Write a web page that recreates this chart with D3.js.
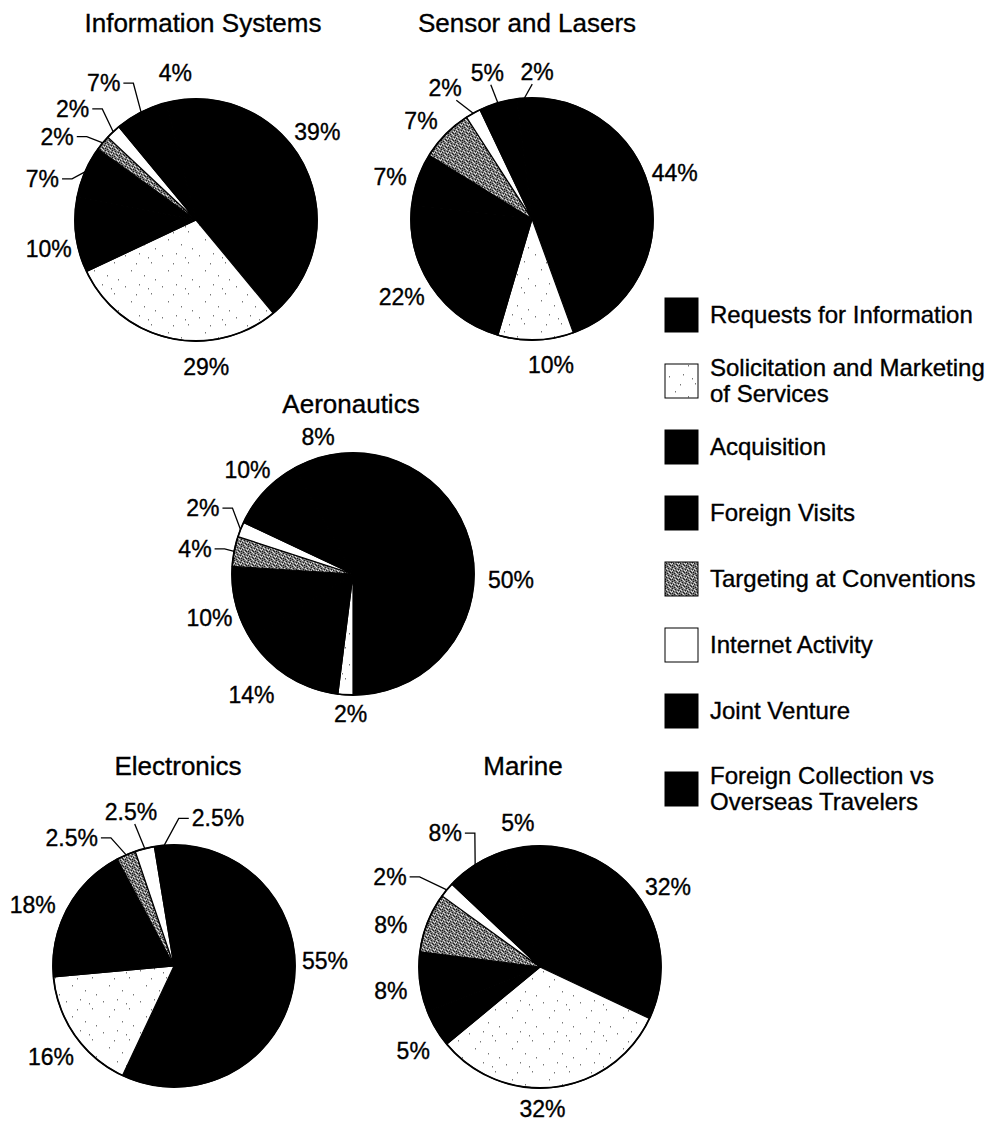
<!DOCTYPE html>
<html>
<head>
<meta charset="utf-8">
<script src="https://cdn.jsdelivr.net/npm/d3@7"></script>
<style>
  body { margin: 0; background: #fff; }
  svg { display: block; font-family: "Liberation Sans", Arial, sans-serif; }
  text { fill: #000; stroke: #000; stroke-width: 0.35px; }
</style>
</head>
<body>
<div id="chart"></div>
<script>
// categories (legend order = slice order, clockwise from 12 o'clock)
const categories = [
  "Requests for Information",
  "Solicitation and Marketing|of Services",
  "Acquisition",
  "Foreign Visits",
  "Targeting at Conventions",
  "Internet Activity",
  "Joint Venture",
  "Foreign Collection vs|Overseas Travelers"
]

const industries = ["Information Systems", "Sensor and Lasers", "Aeronautics", "Electronics", "Marine"]

// percent shares per industry, in category order
const infoSystems = [39, 29, 10, 7, 2, 2, 7, 4]
const sensorLasers = [44, 10, 22, 7, 7, 2, 5, 2]
const aeronautics = [50, 2, 14, 10, 4, 2, 10, 8]
const electronics = [55, 16, 18, 0, 2.5, 2.5, 0, 2.5]
const marine = [32, 32, 5, 8, 8, 2, 8, 5]

const series = [infoSystems, sensorLasers, aeronautics, electronics, marine]

// ---- layout / styling (not data) ----
const W = 988, H = 1123
const R = 121
const pieLayout = [
  { cx: 196, cy: 220, tx: 203, ty: 32 },
  { cx: 532, cy: 219, tx: 527, ty: 32 },
  { cx: 353, cy: 574, tx: 351, ty: 413 },
  { cx: 174, cy: 966, tx: 178, ty: 775 },
  { cx: 540, cy: 967, tx: 523, ty: 775 }
]

// label placement per slice: [angle (deg, clockwise from top), distance from centre, leader type]
const labelPlacement = [
  [[54,150],[176,147],[259,150],[285,159,'e'],[301,162,'e'],[312,166,'e'],[326,165,'e'],[352,148]],
  [[72,150],[172.6,147],[239,152],[286.5,148],[311.4,148],[326.4,157,'s'],[343,153,'s'],[2,147,'s']],
  [[92,158],[181,140],[220,158],[253,150],[279,160,'e'],[293.7,164,'e'],[314.5,148],[345.7,141]],
  [[88,151],[233.5,153],[293.4,154],null,[321.4,164,'e'],[344.4,160,'s'],null,[16.6,154,'e']],
  [[58,151],[179,142],[236.5,152],[261,151],[285.7,155],[301,175,'e'],[324.7,164,'e'],[351.3,146]]
]

const fills = ["#000", "url(#stipple)", "#000", "#000", "url(#grain)", "#fff", "#000", "#000"]

const svg = d3.select("#chart").append("svg")
  .attr("width", W)
  .attr("height", H)

// patterns mimicking the scanned textures
const defs = svg.append("defs")
const stip = defs.append("pattern")
  .attr("id", "stipple")
  .attr("patternUnits", "userSpaceOnUse")
  .attr("width", 37).attr("height", 31)
stip.append("rect").attr("width", 37).attr("height", 31).attr("fill", "#fff")
;[[3,4],[17,2],[29,11],[9,19],[22,24],[33,28],[14,12],[26,6]].forEach(p => {
  stip.append("rect").attr("x", p[0]).attr("y", p[1]).attr("width", 1).attr("height", 1.5).attr("fill", "#777")
})

const grain = defs.append("pattern")
  .attr("id", "grain")
  .attr("patternUnits", "userSpaceOnUse")
  .attr("width", 7).attr("height", 7)
grain.append("rect").attr("width", 7).attr("height", 7).attr("fill", "#7a7a7a")
;[[0,0],[3,1],[6,2],[1,3],[4,4],[2,6],[5,5],[0,5]].forEach(p => {
  grain.append("rect").attr("x", p[0]).attr("y", p[1]).attr("width", 1).attr("height", 1).attr("fill", "#1a1a1a")
})
;[[1,1],[5,0],[2,2],[6,4],[3,5],[0,3],[4,6],[5,3]].forEach(p => {
  grain.append("rect").attr("x", p[0]).attr("y", p[1]).attr("width", 1).attr("height", 1).attr("fill", "#dcdcdc")
})

const pie = d3.pie().sort(null).value(d => d)
const arc = d3.arc().innerRadius(0).outerRadius(R)

const polar = (cx, cy, deg, dist) => {
  const a = deg * Math.PI / 180
  return [cx + dist * Math.sin(a), cy - dist * Math.cos(a)]
}

series.forEach((values, k) => {
  const L = pieLayout[k]
  const g = svg.append("g").attr("class", "pie")

  g.append("text")
    .attr("x", L.tx)
    .attr("y", L.ty)
    .attr("text-anchor", "middle")
    .attr("font-size", 26)
    .text(industries[k])

  const slices = g.append("g").attr("transform", `translate(${L.cx},${L.cy})`)
  const arcs = pie(values)

  slices.selectAll("path")
    .data(arcs.filter(d => d.value > 0))
    .enter()
    .append("path")
    .attr("d", arc)
    .attr("fill", d => fills[d.index])
    .attr("stroke", "#000")
    .attr("stroke-width", 1.2)
    .attr("stroke-linejoin", "round")

  slices.append("circle")
    .attr("r", R)
    .attr("fill", "none")
    .attr("stroke", "#000")
    .attr("stroke-width", 1.8)

  arcs.forEach(d => {
    const place = labelPlacement[k][d.index]
    if (!place || d.value === 0) return
    const [lx, ly] = polar(L.cx, L.cy, place[0], place[1])
    const t = g.append("text")
      .attr("x", lx)
      .attr("y", ly)
      .attr("dy", "0.35em")
      .attr("text-anchor", "middle")
      .attr("font-size", 23)
      .text(d.value + "%")

    if (!place[2]) return
    const hw = t.node().getComputedTextLength() / 2
    const mid = (d.startAngle + d.endAngle) / 2 * 180 / Math.PI
    const [ex, ey] = polar(L.cx, L.cy, mid, R)
    let pts
    if (place[2] === 'e') {
      const side = ex > lx ? 1 : -1
      const sx = lx + side * (hw + 3)
      pts = [[sx, ly], [sx + side * 10, ly], [ex, ey]]
    } else {
      const dx = ex - lx, dy = ey - ly
      const s = Math.min(hw / Math.abs(dx || 1e-6), 10 / Math.abs(dy || 1e-6))
      pts = [[lx + dx * s, ly + dy * s + 2], [ex, ey]]
    }
    g.append("path")
      .attr("d", d3.line()(pts))
      .attr("fill", "none")
      .attr("stroke", "#000")
      .attr("stroke-width", 1.3)
  })
})

// legend
const legend = svg.append("g").attr("class", "legend")
const rowY = i => 315 + i * 66 + (i === 7 ? 12 : 0)

categories.forEach((name, i) => {
  const y = rowY(i)
  legend.append("rect")
    .attr("x", 665)
    .attr("y", y - 17)
    .attr("width", 33)
    .attr("height", 34)
    .attr("fill", fills[i])
    .attr("stroke", "#000")
    .attr("stroke-width", 1)
  const lines = name.split("|")
  const txt = legend.append("text")
    .attr("x", 710)
    .attr("y", y - (lines.length - 1) * 13)
    .attr("dy", "0.35em")
    .attr("font-size", 24)
  lines.forEach((ln, j) => {
    txt.append("tspan")
      .attr("x", 710)
      .attr("dy", j === 0 ? "0.35em" : 26)
      .text(ln)
  })
})
</script>
</body>
</html>
